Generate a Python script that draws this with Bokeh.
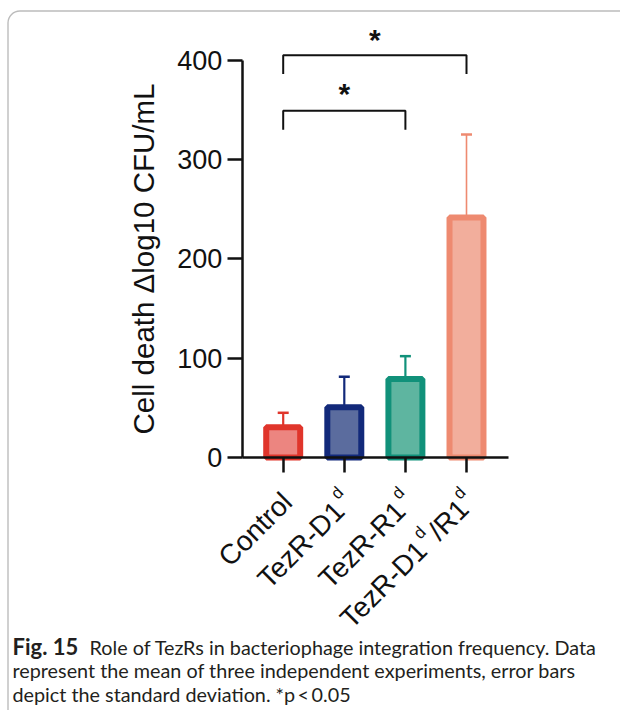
import math
from bokeh.plotting import figure
from bokeh.models import (Range1d, FixedTicker, Label, LinearAxis,
                          ColumnDataSource, BoxAnnotation)
from bokeh.core.properties import value
from bokeh.embed import file_html
from bokeh.resources import INLINE

# ---------------- data ----------------
categories = ["Control", "TezR-D1", "TezR-R1", "TezR-D1/R1"]
means = [30.5, 50.5, 79.0, 241.5]
sds = [14.5, 30.8, 23.0, 83.7]
y_ticks = [0, 100, 200, 300, 400]
# tick labels as pieces: (text, is_superscript)
tick_label_pieces = [
    [("Control", False)],
    [("TezR-D1", False), ("d", True)],
    [("TezR-R1", False), ("d", True)],
    [("TezR-D1", False), ("d", True), ("/R1", False), ("d", True)],
]
comparisons = [("Control", "TezR-R1"), ("Control", "TezR-D1/R1")]
sig_marks = ["*", "*"]
y_label = "Cell death \u0394log10 CFU/mL"
caption_bold = "Fig. 15"
caption_lines = [
    "Role of TezRs in bacteriophage integration frequency. Data",
    "represent the mean of three independent experiments, error bars",
    "depict the standard deviation. *p\u2009<\u20090.05",
]

# ---------------- styles / layout ----------------
edge_colors = ["#e0352b", "#12297a", "#11917a", "#ee8a70"]
fill_colors = ["#ec8580", "#5b6c9e", "#5eb5a0", "#f2ae9c"]
FONT = "Liberation Sans"
CAP_FONT = "Lato"
INK = "#111111"
W_PX, H_PX = 620, 710
X_PPU, Y_PPU = 61.1, 0.9935          # pixels per category step / per y unit
X0_PX, Y0_PX = 282.7, 457.0          # pixel position of first category / of y=0
x_start = -X0_PX / X_PPU
y_start = -(H_PX - Y0_PX) / Y_PPU

p = figure(width=W_PX, height=H_PX,
           x_range=Range1d(x_start, x_start + W_PX / X_PPU),
           y_range=Range1d(y_start, y_start + H_PX / Y_PPU),
           x_axis_location=None, y_axis_location=None,
           output_backend="svg", toolbar_location=None,
           min_border=0)
p.outline_line_color = None
p.xgrid.grid_line_color = None
p.ygrid.grid_line_color = None
p.background_fill_color = "white"
p.border_fill_color = "white"

# frame around figure + caption (screen units: from frame bottom-left)
p.add_layout(BoxAnnotation(left=7.5, right=W_PX + 50, top=H_PX - 10.5, bottom=-50,
                           left_units="screen", right_units="screen",
                           top_units="screen", bottom_units="screen",
                           fill_color=None, line_color="#222222", line_width=1.4,
                           border_radius=12, level="underlay"))

xpos = list(range(len(categories)))
src = ColumnDataSource(dict(
    x=xpos, mean=means, upper=[m + s for m, s in zip(means, sds)],
    edge=edge_colors, fill=fill_colors, ew=[2.2, 2.2, 2.2, 1.6],
))

p.segment(x0="x", y0="mean", x1="x", y1="upper", line_color="edge",
          line_width="ew", source=src)
p.scatter(x="x", y="upper", marker="dash", size=11, line_color="edge",
          line_width=2.5, source=src)
p.vbar(x="x", top="mean", bottom=0, width=0.556, fill_color="fill",
       line_color="edge", line_width=6, source=src)

# significance brackets
bracket_levels = [(349.0, 330.0), (405.0, 386.0)]
star_levels = [369.0, 423.5]
for (a, b), (top, leg), sy, mark in zip(comparisons, bracket_levels, star_levels, sig_marks):
    i, j = categories.index(a), categories.index(b)
    p.line(x=[i, i, j, j], y=[leg, top, top, leg], line_color=INK, line_width=2)
    p.text(x=[(i + j) / 2], y=[sy], text=[mark], text_align="center",
           text_baseline="alphabetic", y_offset=3, text_font=value(FONT),
           text_font_style="bold", text_font_size="30px", text_color=INK)

# axes (fixed inside the full-canvas frame)
y_axis_x = xpos[0] - 0.671
x_axis_right = xpos[-1] + 0.687
yax = LinearAxis(fixed_location=y_axis_x, ticker=FixedTicker(ticks=y_ticks),
                 bounds=(0, 400))
yax.major_tick_out = 15
yax.major_tick_in = 0
yax.minor_tick_out = 0
yax.minor_tick_in = 0
yax.axis_line_width = 2.5
yax.major_tick_line_width = 2.5
yax.axis_line_color = INK
yax.major_tick_line_color = INK
yax.major_label_text_font = FONT
yax.major_label_text_font_size = "27px"
yax.major_label_text_color = INK
yax.major_label_standoff = 5
yax.axis_label = y_label
yax.axis_label_text_font = FONT
yax.axis_label_text_font_size = "29.5px"
yax.axis_label_text_font_style = "normal"
yax.axis_label_text_color = INK
yax.axis_label_standoff = 14
p.add_layout(yax, "left")

xax = LinearAxis(fixed_location=0, ticker=FixedTicker(ticks=xpos),
                 bounds=(y_axis_x, x_axis_right))
xax.major_tick_out = 15
xax.major_tick_in = 0
xax.minor_tick_out = 0
xax.minor_tick_in = 0
xax.axis_line_width = 2.5
xax.major_tick_line_width = 2.5
xax.axis_line_color = INK
xax.major_tick_line_color = INK
xax.major_label_overrides = {k: "" for k in xpos}
p.add_layout(xax, "below")

# rotated tick labels with superscripts
adv = {'C': .722, 'o': .556, 'n': .556, 't': .278, 'r': .333, 'l': .222, 'T': .611,
       'e': .556, 'z': .5, 'R': .722, '-': .333, 'D': .722, '1': .556, '/': .278, 'd': .556}
FS_MAIN, FS_SUP, RAISE, SUP_GAP = 28, 17, 11, 3
END_DX, END_DY = 4, 40
c45 = math.cos(math.pi / 4)
rows = {True: dict(x=[], y=[], text=[], xo=[], yo=[]),
        False: dict(x=[], y=[], text=[], xo=[], yo=[])}
for xi, pieces in zip(xpos, tick_label_pieces):
    widths = []
    for k, (t, s) in enumerate(pieces):
        w = sum(adv[ch] for ch in t) * (FS_SUP if s else FS_MAIN)
        if s and k < len(pieces) - 1:
            w += SUP_GAP
        widths.append(w)
    W = sum(widths)
    sx0 = END_DX - W * c45
    sy0 = END_DY + W * c45
    cum = 0.0
    for (t, s), w in zip(pieces, widths):
        px = sx0 + cum * c45
        py = sy0 - cum * c45
        if s:
            px -= RAISE * c45
            py -= RAISE * c45
        r = rows[s]
        r["x"].append(xi)
        r["y"].append(0)
        r["text"].append(t)
        r["xo"].append(px)
        r["yo"].append(py)
        cum += w

for s, fs in ((False, FS_MAIN), (True, FS_SUP)):
    p.text(x="x", y="y", text="text", x_offset="xo", y_offset="yo",
           angle=math.pi / 4, source=ColumnDataSource(rows[s]),
           text_font=value(FONT), text_font_size=f"{fs}px",
           text_color=INK, text_align="left", text_baseline="alphabetic")

# caption (screen units, y measured up from the bottom edge)
CAP_FS = "19.8px"
CAP_COLOR = "#231f20"
p.add_layout(Label(x=12, y=H_PX - 646, x_units="screen", y_units="screen",
                   text=caption_bold, text_font=CAP_FONT, text_font_style="bold",
                   text_font_size="22px", text_color=CAP_COLOR,
                   text_baseline="alphabetic"))
cap_pos = [(89, 646), (12, 669.5), (12, 693)]
for (cx, cy), line in zip(cap_pos, caption_lines):
    p.add_layout(Label(x=cx, y=H_PX - cy, x_units="screen", y_units="screen",
                       text=line, text_font=CAP_FONT, text_font_size=CAP_FS,
                       text_color=CAP_COLOR, text_baseline="alphabetic"))

open("out.html", "w").write(file_html(p, INLINE))
